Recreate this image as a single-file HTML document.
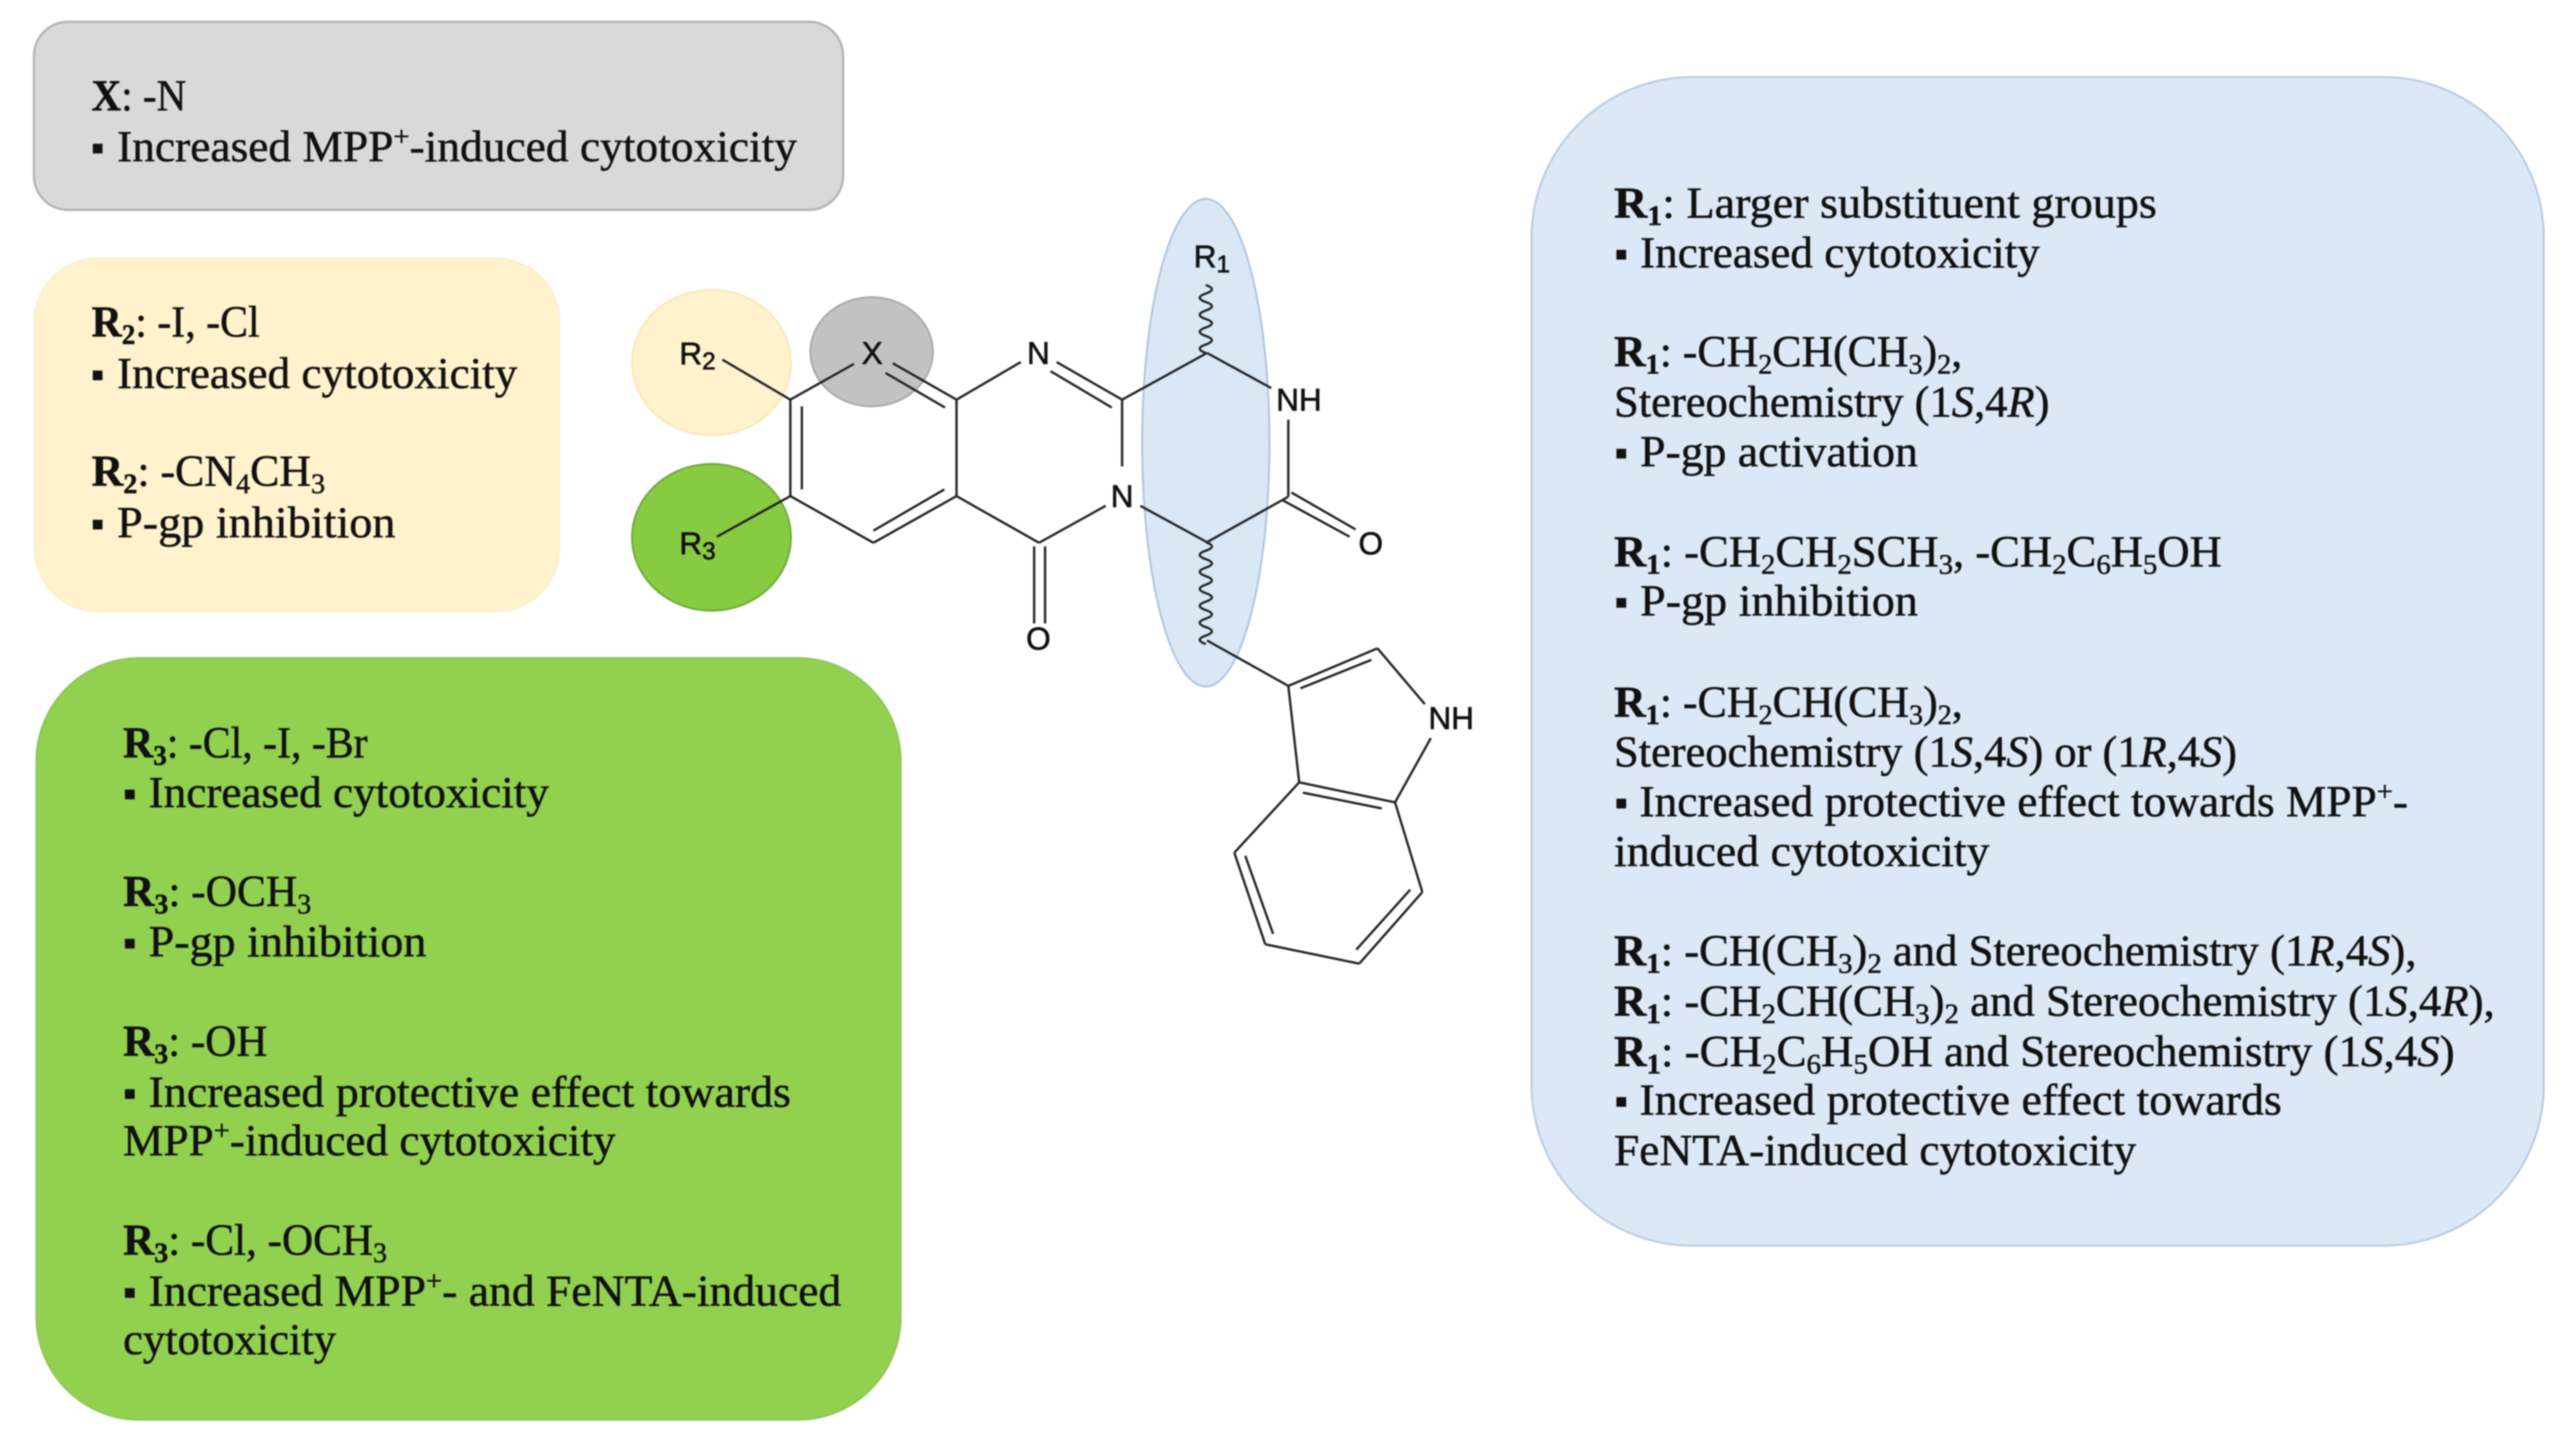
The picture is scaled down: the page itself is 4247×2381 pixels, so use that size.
<!DOCTYPE html>
<html><head><meta charset="utf-8"><style>
html,body{margin:0;padding:0;background:#fff;width:4247px;height:2381px;overflow:hidden}
svg{display:block;filter:blur(1px)}
.t text{font-family:"Liberation Serif",serif;font-size:73px;fill:#111;stroke:#111;stroke-width:.8}
.t .b{font-weight:bold}
.t .i{font-style:italic}
.m text{font-family:"Liberation Sans",sans-serif;font-size:52px;fill:#111;stroke:#111;stroke-width:1}
.m line,.m path{stroke:#222;stroke-width:3.8;fill:none}
</style></head><body>
<svg width="4247" height="2381" viewBox="0 0 4247 2381" xmlns="http://www.w3.org/2000/svg">
<rect width="4247" height="2381" fill="#fff"/>
<rect x="56" y="36" width="1334" height="310" rx="56" fill="#d9d9d9" stroke="#b5b5b5" stroke-width="4"/>
<rect x="57" y="426" width="865" height="582" rx="104" fill="#fff2cc" stroke="#fdeecb" stroke-width="3"/>
<rect x="60" y="1085" width="1425" height="1256" rx="170" fill="#92d050" stroke="#8cc65a" stroke-width="3"/>
<rect x="2525" y="127" width="1669" height="1927" rx="265" fill="#dce8f5" stroke="#b4c9e2" stroke-width="3"/>
<ellipse cx="1173" cy="598" rx="131" ry="120" fill="#fff2cc" stroke="#f9e7b8" stroke-width="3"/>
<ellipse cx="1173" cy="886" rx="131" ry="121" fill="#88ca41" stroke="#6ca83c" stroke-width="3"/>
<ellipse cx="1437" cy="580" rx="101" ry="90" fill="#c2c2c2" stroke="#a8a8a8" stroke-width="3"/>
<ellipse cx="1988" cy="730" rx="105" ry="402" fill="#dae7f5" stroke="#a9c4e0" stroke-width="3"/>
<g class="m">
<line x1="1191" y1="593" x2="1303" y2="659"/>
<line x1="1182" y1="885" x2="1303" y2="818"/>
<line x1="1303" y1="659" x2="1303" y2="818"/>
<line x1="1322" y1="670" x2="1322" y2="807"/>
<line x1="1303" y1="659" x2="1408" y2="600"/>
<line x1="1472" y1="599" x2="1577" y2="659"/>
<line x1="1460" y1="615" x2="1558" y2="672"/>
<line x1="1577" y1="659" x2="1577" y2="818"/>
<line x1="1577" y1="659" x2="1683" y2="597"/>
<line x1="1303" y1="818" x2="1440" y2="895"/>
<line x1="1440" y1="895" x2="1577" y2="818"/>
<line x1="1440" y1="875" x2="1557" y2="807"/>
<line x1="1577" y1="818" x2="1713" y2="895"/>
<line x1="1713" y1="895" x2="1823" y2="834"/>
<line x1="1705" y1="901" x2="1705" y2="1028"/>
<line x1="1723" y1="901" x2="1723" y2="1028"/>
<line x1="1742" y1="597" x2="1850" y2="659"/>
<line x1="1732" y1="612" x2="1833" y2="672"/>
<line x1="1850" y1="659" x2="1850" y2="769"/>
<line x1="1850" y1="659" x2="1990" y2="582"/>
<line x1="1990" y1="582" x2="2096" y2="640"/>
<line x1="2124" y1="692" x2="2124" y2="819"/>
<line x1="1880" y1="834" x2="1990" y2="894"/>
<line x1="1990" y1="894" x2="2124" y2="819"/>
<line x1="2129" y1="812" x2="2235" y2="873"/>
<line x1="2115" y1="825" x2="2225" y2="885"/>
<path d="M1988 582q-20 -7 0 -14t0 -14t0 -14t0 -14t0 -14t0 -14t0 -14t0 -14"/>
<path d="M1988 894q20 7 0 14t0 14t0 14t0 14t0 14t0 14t0 14t0 14t0 14t0 14t0 14t0 14"/>
<line x1="1990" y1="1056" x2="2124" y2="1131"/>
<line x1="2124" y1="1131" x2="2271" y2="1069"/>
<line x1="2144" y1="1135" x2="2261" y2="1088"/>
<line x1="2271" y1="1069" x2="2349" y2="1161"/>
<line x1="2359" y1="1217" x2="2300" y2="1323"/>
<line x1="2124" y1="1131" x2="2142" y2="1290"/>
<line x1="2142" y1="1290" x2="2300" y2="1323"/>
<line x1="2148" y1="1307" x2="2278" y2="1333"/>
<line x1="2142" y1="1290" x2="2035" y2="1406"/>
<line x1="2035" y1="1406" x2="2086" y2="1557"/>
<line x1="2053" y1="1411" x2="2099" y2="1540"/>
<line x1="2086" y1="1557" x2="2241" y2="1589"/>
<line x1="2241" y1="1589" x2="2345" y2="1471"/>
<line x1="2236" y1="1566" x2="2325" y2="1467"/>
<line x1="2345" y1="1471" x2="2300" y2="1323"/>
<text x="1120" y="601">R<tspan font-size="40" dy="8">2</tspan></text>
<text x="1120" y="914">R<tspan font-size="40" dy="8">3</tspan></text>
<text x="1968" y="441">R<tspan font-size="40" dy="8">1</tspan></text>
<text x="1438" y="600" text-anchor="middle">X</text>
<text x="1712" y="600" text-anchor="middle">N</text>
<text x="1850" y="836" text-anchor="middle">N</text>
<text x="2104" y="677">NH</text>
<text x="1712" y="1071" text-anchor="middle">O</text>
<text x="2260" y="914" text-anchor="middle">O</text>
<text x="2355" y="1202">NH</text>
</g>
<g class="t" transform="translate(-2 2)">
<!-- gray -->
<text x="153" y="180" textLength="156" lengthAdjust="spacingAndGlyphs"><tspan class="b">X</tspan>: -N</text>
<rect x="155" y="235" width="16" height="16" fill="#111"/>
<text x="195" y="264" textLength="1121" lengthAdjust="spacingAndGlyphs">Increased MPP<tspan font-size="46" dy="-26">+</tspan><tspan dy="26">-induced cytotoxicity</tspan></text>
<!-- yellow -->
<text x="153" y="553" textLength="277" lengthAdjust="spacingAndGlyphs"><tspan class="b">R<tspan font-size="47" dy="12">2</tspan></tspan><tspan dy="-12">: -I, -Cl</tspan></text>
<rect x="155" y="609" width="16" height="16" fill="#111"/>
<text x="195" y="638" textLength="660" lengthAdjust="spacingAndGlyphs">Increased cytotoxicity</text>
<text x="153" y="799" textLength="385" lengthAdjust="spacingAndGlyphs"><tspan class="b">R<tspan font-size="47" dy="12">2</tspan></tspan><tspan dy="-12">: -CN</tspan><tspan font-size="47" dy="12">4</tspan><tspan dy="-12">CH</tspan><tspan font-size="47" dy="12">3</tspan></text>
<rect x="155" y="855" width="16" height="16" fill="#111"/>
<text x="195" y="884" textLength="459" lengthAdjust="spacingAndGlyphs">P-gp inhibition</text>
<!-- green -->
<text x="205" y="1247" textLength="403" lengthAdjust="spacingAndGlyphs"><tspan class="b">R<tspan font-size="47" dy="12">3</tspan></tspan><tspan dy="-12">: -Cl, -I, -Br</tspan></text>
<rect x="208" y="1300" width="16" height="16" fill="#111"/>
<text x="247" y="1329" textLength="660" lengthAdjust="spacingAndGlyphs">Increased cytotoxicity</text>
<text x="205" y="1492" textLength="310" lengthAdjust="spacingAndGlyphs"><tspan class="b">R<tspan font-size="47" dy="12">3</tspan></tspan><tspan dy="-12">: -OCH</tspan><tspan font-size="47" dy="12">3</tspan></text>
<rect x="208" y="1546" width="16" height="16" fill="#111"/>
<text x="247" y="1575" textLength="458" lengthAdjust="spacingAndGlyphs">P-gp inhibition</text>
<text x="205" y="1739" textLength="238" lengthAdjust="spacingAndGlyphs"><tspan class="b">R<tspan font-size="47" dy="12">3</tspan></tspan><tspan dy="-12">: -OH</tspan></text>
<rect x="208" y="1794" width="16" height="16" fill="#111"/>
<text x="247" y="1823" textLength="1059" lengthAdjust="spacingAndGlyphs">Increased protective effect towards</text>
<text x="205" y="1903" textLength="812" lengthAdjust="spacingAndGlyphs">MPP<tspan font-size="46" dy="-26">+</tspan><tspan dy="26">-induced cytotoxicity</tspan></text>
<text x="205" y="2067" textLength="435" lengthAdjust="spacingAndGlyphs"><tspan class="b">R<tspan font-size="47" dy="12">3</tspan></tspan><tspan dy="-12">: -Cl, -OCH</tspan><tspan font-size="47" dy="12">3</tspan></text>
<rect x="208" y="2122" width="16" height="16" fill="#111"/>
<text x="247" y="2151" textLength="1142" lengthAdjust="spacingAndGlyphs">Increased MPP<tspan font-size="46" dy="-26">+</tspan><tspan dy="26">- and FeNTA-induced</tspan></text>
<text x="205" y="2231" textLength="351" lengthAdjust="spacingAndGlyphs">cytotoxicity</text>
<!-- blue -->
<text x="2663" y="357" textLength="895" lengthAdjust="spacingAndGlyphs"><tspan class="b">R<tspan font-size="47" dy="12">1</tspan></tspan><tspan dy="-12">: Larger substituent groups</tspan></text>
<rect x="2667" y="410" width="16" height="16" fill="#111"/>
<text x="2706" y="439" textLength="659" lengthAdjust="spacingAndGlyphs">Increased cytotoxicity</text>
<text x="2663" y="602" textLength="574" lengthAdjust="spacingAndGlyphs"><tspan class="b">R<tspan font-size="47" dy="12">1</tspan></tspan><tspan dy="-12">: -CH</tspan><tspan font-size="47" dy="12">2</tspan><tspan dy="-12">CH(CH</tspan><tspan font-size="47" dy="12">3</tspan><tspan dy="-12">)</tspan><tspan font-size="47" dy="12">2</tspan><tspan dy="-12">,</tspan></text>
<text x="2663" y="685" textLength="718" lengthAdjust="spacingAndGlyphs">Stereochemistry (1<tspan class="i">S</tspan>,4<tspan class="i">R</tspan>)</text>
<rect x="2667" y="738" width="16" height="16" fill="#111"/>
<text x="2706" y="767" textLength="458" lengthAdjust="spacingAndGlyphs">P-gp activation</text>
<text x="2663" y="932" textLength="1002" lengthAdjust="spacingAndGlyphs"><tspan class="b">R<tspan font-size="47" dy="12">1</tspan></tspan><tspan dy="-12">: -CH</tspan><tspan font-size="47" dy="12">2</tspan><tspan dy="-12">CH</tspan><tspan font-size="47" dy="12">2</tspan><tspan dy="-12">SCH</tspan><tspan font-size="47" dy="12">3</tspan><tspan dy="-12">, -CH</tspan><tspan font-size="47" dy="12">2</tspan><tspan dy="-12">C</tspan><tspan font-size="47" dy="12">6</tspan><tspan dy="-12">H</tspan><tspan font-size="47" dy="12">5</tspan><tspan dy="-12">OH</tspan></text>
<rect x="2667" y="984" width="16" height="16" fill="#111"/>
<text x="2706" y="1013" textLength="458" lengthAdjust="spacingAndGlyphs">P-gp inhibition</text>
<text x="2663" y="1180" textLength="575" lengthAdjust="spacingAndGlyphs"><tspan class="b">R<tspan font-size="47" dy="12">1</tspan></tspan><tspan dy="-12">: -CH</tspan><tspan font-size="47" dy="12">2</tspan><tspan dy="-12">CH(CH</tspan><tspan font-size="47" dy="12">3</tspan><tspan dy="-12">)</tspan><tspan font-size="47" dy="12">2</tspan><tspan dy="-12">,</tspan></text>
<text x="2663" y="1262" textLength="1027" lengthAdjust="spacingAndGlyphs">Stereochemistry (1<tspan class="i">S</tspan>,4<tspan class="i">S</tspan>) or (1<tspan class="i">R</tspan>,4<tspan class="i">S</tspan>)</text>
<rect x="2667" y="1315" width="16" height="16" fill="#111"/>
<text x="2705" y="1344" textLength="1267" lengthAdjust="spacingAndGlyphs">Increased protective effect towards MPP<tspan font-size="46" dy="-26">+</tspan><tspan dy="26">-</tspan></text>
<text x="2663" y="1426" textLength="619" lengthAdjust="spacingAndGlyphs">induced cytotoxicity</text>
<text x="2663" y="1590" textLength="1323" lengthAdjust="spacingAndGlyphs"><tspan class="b">R<tspan font-size="47" dy="12">1</tspan></tspan><tspan dy="-12">: -CH(CH</tspan><tspan font-size="47" dy="12">3</tspan><tspan dy="-12">)</tspan><tspan font-size="47" dy="12">2</tspan><tspan dy="-12"> and Stereochemistry (1</tspan><tspan class="i">R</tspan>,4<tspan class="i">S</tspan>),</text>
<text x="2663" y="1673" textLength="1452" lengthAdjust="spacingAndGlyphs"><tspan class="b">R<tspan font-size="47" dy="12">1</tspan></tspan><tspan dy="-12">: -CH</tspan><tspan font-size="47" dy="12">2</tspan><tspan dy="-12">CH(CH</tspan><tspan font-size="47" dy="12">3</tspan><tspan dy="-12">)</tspan><tspan font-size="47" dy="12">2</tspan><tspan dy="-12"> and Stereochemistry (1</tspan><tspan class="i">S</tspan>,4<tspan class="i">R</tspan>),</text>
<text x="2663" y="1756" textLength="1386" lengthAdjust="spacingAndGlyphs"><tspan class="b">R<tspan font-size="47" dy="12">1</tspan></tspan><tspan dy="-12">: -CH</tspan><tspan font-size="47" dy="12">2</tspan><tspan dy="-12">C</tspan><tspan font-size="47" dy="12">6</tspan><tspan dy="-12">H</tspan><tspan font-size="47" dy="12">5</tspan><tspan dy="-12">OH and Stereochemistry (1</tspan><tspan class="i">S</tspan>,4<tspan class="i">S</tspan>)</text>
<rect x="2667" y="1807" width="16" height="16" fill="#111"/>
<text x="2705" y="1836" textLength="1059" lengthAdjust="spacingAndGlyphs">Increased protective effect towards</text>
<text x="2663" y="1919" textLength="861" lengthAdjust="spacingAndGlyphs">FeNTA-induced cytotoxicity</text>
</g>
</svg>
</body></html>
